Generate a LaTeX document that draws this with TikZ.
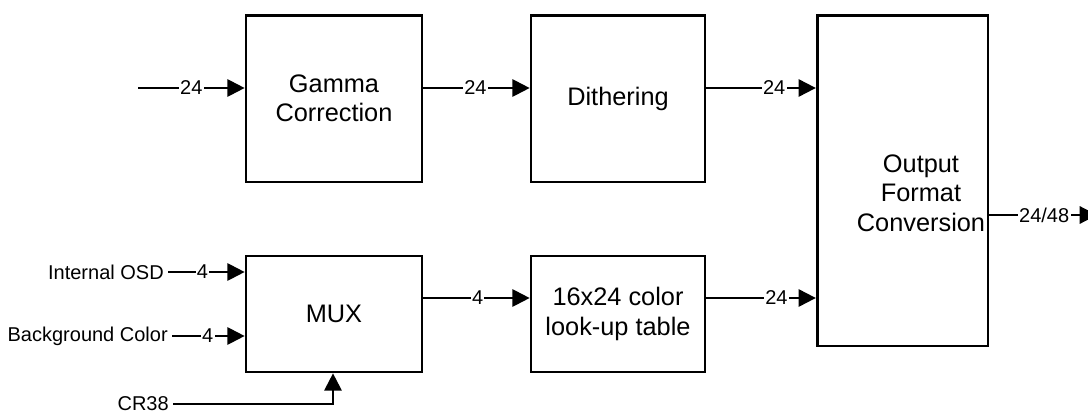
\documentclass[tikz,border=0pt]{standalone}
\usepackage{fontspec}
\setmainfont{Liberation Sans}
\usetikzlibrary{arrows.meta,positioning}

\begin{document}
\begin{tikzpicture}[x=0.75pt,y=-0.75pt,
  block/.style={draw,line width=2pt,align=center,font=\fontsize{19}{22}\selectfont,inner sep=2pt},
  conn/.style={line width=1.6pt,-{Triangle[length=13pt,width=13pt]}},
  lbl/.style={fill=white,inner sep=1pt,font=\fontsize{15}{17}\selectfont},
  side/.style={inner sep=3pt,font=\fontsize{15}{18}\selectfont}]
\useasboundingbox (0,0) rectangle (1088,414);
% blocks
\node [block,minimum width=132pt,minimum height=125pt] (gamma) at (334,98.5) {Gamma\\Correction};
\node [block,minimum width=130.5pt,minimum height=125pt] (dither) at (618,98.5) {Dithering};
\node [block,minimum width=128pt,minimum height=248pt] (outfmt) at (902.5,180.5) {};
\node [align=center,font=\fontsize{19}{22}\selectfont] (outtxt) at (921,193) {Output\\Format\\Conversion};
\node [block,minimum width=132pt,minimum height=87pt] (mux) at (334,314) {MUX};
\node [block,minimum width=130.5pt,minimum height=87pt] (lut) at (618,314) {16x24 color\\look-up table};
% levels of the connectors
\coordinate (top) at (0,88);
\coordinate (bot) at (0,298);
\coordinate (mid) at (0,215);
\coordinate (vin) at (138,88);
\coordinate (vout) at (1097,215);
% side inputs
\node [side,anchor=east] (osd) at (168,272) {Internal OSD};
\node [side,anchor=east] (bgc) at (172,336) {Background Color};
\node [side,anchor=east] (cr) at (173,404) {CR38};
% top path
\draw [conn] (vin) -- node [lbl,pos=0.5] {24} (gamma.west |- top);
\draw [conn] (gamma.east |- top) -- node [lbl,pos=0.49] {24} (dither.west |- top);
\draw [conn] (dither.east |- top) -- node [lbl,pos=0.62] {24} (outfmt.west |- top);
% bottom path
\draw [conn] (osd.east) -- node [lbl,pos=0.45] {4} (mux.west |- osd.east);
\draw [conn] (bgc.east) -- node [lbl,pos=0.49] {4} (mux.west |- bgc.east);
\draw [conn] (cr.east) -| ([xshift=-0.75pt]mux.south);
\draw [conn] (mux.east |- bot) -- node [lbl,pos=0.51] {4} (lut.west |- bot);
\draw [conn] (lut.east |- bot) -- node [lbl,pos=0.64] {24} (outfmt.west |- bot);
% output
\draw [conn] (outfmt.east |- mid) -- node [lbl,pos=0.51] {24/48} (vout);
\end{tikzpicture}
\end{document}
